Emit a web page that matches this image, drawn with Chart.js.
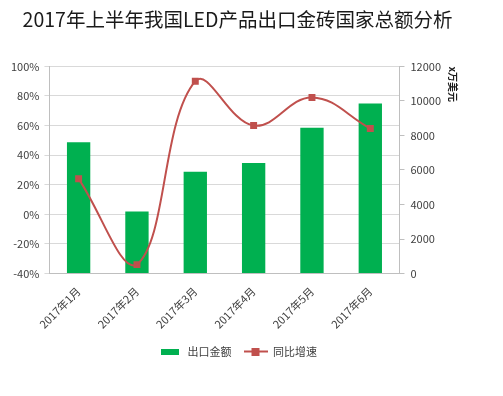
<!DOCTYPE html>
<html>
<head>
<meta charset="utf-8">
<script src="https://cdn.jsdelivr.net/npm/chart.js@4/dist/chart.umd.min.js"></script>
<style>
  html, body { margin: 0; padding: 0; background: #fff; }
  #wrap { width: 503px; height: 396px; }
</style>
</head>
<body>
<div id="wrap"><canvas id="ledChart"></canvas></div>
<script>
// Months on the x axis
const months = ['2017年1月', '2017年2月', '2017年3月', '2017年4月', '2017年5月', '2017年6月'];
// Export value (x万美元), right axis
const exportValue = [7600, 3600, 5900, 6400, 8450, 9850];
// Year-on-year growth (%), left axis
const growthRate = [24, -34, 90, 60, 79, 58];

const fontFamily = '"Microsoft YaHei", "Noto Sans CJK SC", sans-serif';
const barColor = '#00b050';
const lineColor = '#c0504d';

// small legend swatches, like the Excel ones
function makeBarSwatch() {
    const c = document.createElement('canvas');
    c.width = 18; c.height = 6;
    const ctx = c.getContext('2d');
    ctx.fillStyle = barColor;
    ctx.fillRect(0, 0, 18, 6);
    return c;
}
function makeLineSwatch() {
    const c = document.createElement('canvas');
    c.width = 24; c.height = 8;
    const ctx = c.getContext('2d');
    ctx.strokeStyle = lineColor;
    ctx.lineWidth = 2;
    ctx.beginPath();
    ctx.moveTo(0, 4); ctx.lineTo(24, 4);
    ctx.stroke();
    ctx.fillStyle = lineColor;
    ctx.fillRect(8, 0, 8, 8);
    return c;
}
const barSwatch = makeBarSwatch();
const lineSwatch = makeLineSwatch();

new Chart(document.getElementById('ledChart'), {
    data: {
        labels: months,
        datasets: [
            {
                type: 'line',
                label: '同比增速',
                data: growthRate,
                yAxisID: 'yLeft',
                borderColor: lineColor,
                backgroundColor: lineColor,
                borderWidth: 2,
                pointStyle: 'rect',
                pointRadius: 3.5,
                pointBackgroundColor: lineColor,
                tension: 0.4,
                order: 0
            },
            {
                type: 'bar',
                label: '出口金额',
                data: exportValue,
                yAxisID: 'yRight',
                backgroundColor: barColor,
                barPercentage: 0.4,
                categoryPercentage: 1,
                order: 1
            }
        ]
    },
    options: {
        responsive: true,
        maintainAspectRatio: false,
        animation: false,
        layout: { padding: { left: 6, right: 34, top: 0, bottom: 29 } },
        plugins: {
            title: {
                display: true,
                text: '2017年上半年我国LED产品出口金砖国家总额分析',
                align: 'center',
                color: '#1a1a1a',
                font: { family: fontFamily, size: 19.5, weight: 'normal' },
                padding: { top: 8, bottom: 35 }
            },
            legend: {
                position: 'bottom',
                reverse: true,
                labels: {
                    usePointStyle: true,
                    pointStyleWidth: 24,
                    color: '#404040',
                    font: { family: fontFamily, size: 11 },
                    padding: 12,
                    generateLabels(chart) {
                        const items = Chart.defaults.plugins.legend.labels.generateLabels(chart);
                        items.forEach(it => {
                            it.pointStyle = it.text === '同比增速' ? lineSwatch : barSwatch;
                        });
                        return items;
                    }
                }
            },
            tooltip: { enabled: false }
        },
        scales: {
            x: {
                offset: true,
                grid: { display: false },
                border: { color: '#bfbfbf' },
                ticks: {
                    color: '#404040',
                    font: { family: fontFamily, size: 11 },
                    maxRotation: 45,
                    minRotation: 45
                }
            },
            yLeft: {
                position: 'left',
                min: -40,
                max: 100,
                grid: { color: '#d9d9d9', drawTicks: true, tickLength: 5 },
                border: { color: '#bfbfbf' },
                ticks: {
                    stepSize: 20,
                    padding: 5,
                    color: '#404040',
                    font: { family: fontFamily, size: 11 },
                    callback: v => v + '%'
                }
            },
            yRight: {
                position: 'right',
                min: 0,
                max: 12000,
                grid: { display: true, drawOnChartArea: false, color: '#bfbfbf', tickLength: 5 },
                border: { color: '#bfbfbf' },
                ticks: {
                    stepSize: 2000,
                    padding: 6,
                    color: '#404040',
                    font: { family: fontFamily, size: 11 },
                    callback: v => String(v)
                },
                title: {
                    display: true,
                    text: 'x万美元',
                    align: 'end',
                    color: '#1a1a1a',
                    font: { family: fontFamily, size: 10, weight: 'bold' },
                    padding: { top: 10, bottom: 0 }
                }
            }
        }
    }
});
</script>
</body>
</html>
